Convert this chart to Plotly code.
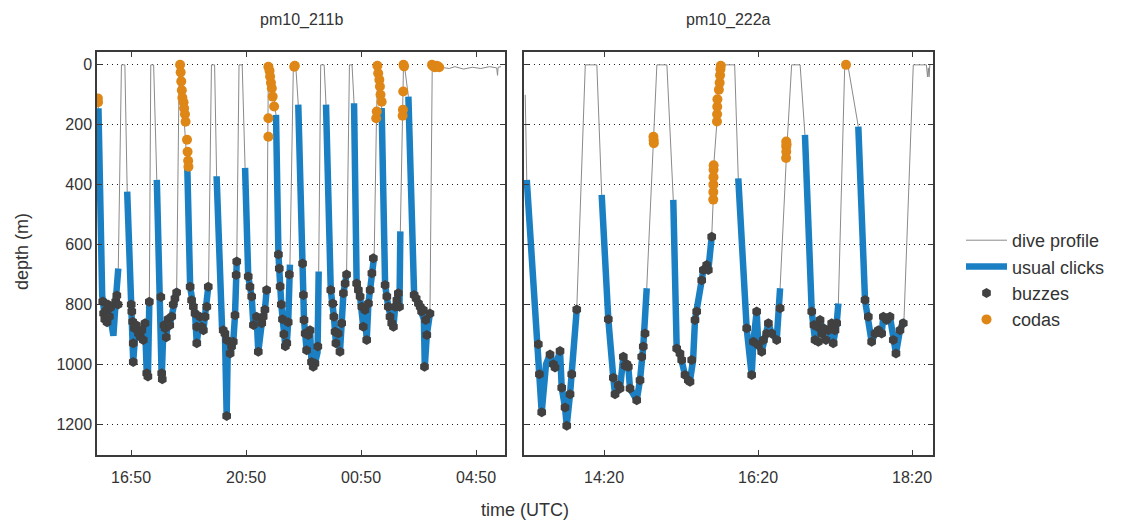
import plotly.graph_objects as go

# ---------------- data (time in decimal hours UTC, depth in m) ----------------
# panel 1 : pm10_211b (hours > 24 are after midnight)
p1_time = [15.665, 15.70, 15.75, 15.83, 15.92, 16.00, 16.08, 16.15, 16.22, 16.30, 16.39, 16.50, 16.62,
           16.70, 16.84, 16.89, 16.91, 16.98, 17.09, 17.15, 17.21, 17.26, 17.32, 17.38, 17.42, 17.47, 17.52, 17.62,
           17.73, 17.82, 17.87, 17.90, 17.96, 18.02, 18.06, 18.12, 18.18, 18.25, 18.33, 18.42, 18.51, 18.55,
           18.79, 18.89, 19.00, 19.06, 19.12, 19.23, 19.35, 19.47, 19.53, 19.63, 19.74,
           19.81, 20.00, 20.10, 20.16, 20.20, 20.28, 20.39, 20.45, 20.51, 20.59, 20.70,
           20.80, 20.91, 21.03, 21.09, 21.20, 21.26, 21.38, 21.49, 21.55, 21.60, 21.61, 21.65,
           21.876, 21.96, 22.06, 22.15, 22.20, 22.25, 22.30, 22.36, 22.48, 22.56,
           22.65, 22.80, 22.85, 22.94, 23.00, 23.06, 23.11, 23.17, 23.23, 23.32, 23.36, 23.43, 23.55,
           23.615, 23.78, 23.89, 23.96, 24.04, 24.10, 24.16, 24.22, 24.33, 24.43, 24.52,
           24.59, 24.68, 24.80, 24.91, 24.97, 25.03, 25.09, 25.21, 25.29, 25.37, 25.40, 25.42,
           25.55, 25.67, 25.78, 25.90, 25.96, 26.02, 26.13, 26.17, 26.20, 26.28, 26.31, 26.34,
           26.48, 26.68, 26.83, 26.94, 27.02, 27.05, 27.12, 27.23, 27.31,
           27.60, 27.90, 28.10, 28.40, 28.70, 29.00, 29.30, 29.55, 29.58, 29.60, 29.70]
p1_depth = [115, 145, 560, 770, 840, 850, 820, 860, 905, 790, 680, 0, 0,
            423, 780, 858, 990, 900, 897, 908, 886, 919, 863, 1030, 1045, 791, 0, 0,
            384, 745, 775, 1045, 880, 880, 910, 850, 870, 840, 800, 760, 0, 0,
            340, 741, 808, 830, 930, 841, 886, 808, 733, 0, 0,
            372, 880, 897, 1173, 930, 964, 925, 836, 657, 0, 0,
            344, 707, 774, 869, 841, 958, 863, 818, 752, 240, 0, 0,
            167, 633, 800, 900, 940, 930, 860, 667, 0, 0,
            133, 663, 852, 953, 902, 886, 992, 1008, 997, 960, 690, 0, 0,
            133, 752, 841, 930, 897, 958, 863, 763, 700, 0, 0,
            128, 730, 774, 875, 819, 919, 797, 696, 639, 178, 0, 0,
            144, 735, 808, 863, 875, 808, 763, 808, 556, 170, 0, 0,
            106, 769, 797, 824, 850, 1008, 902, 830, 0,
            8, 12, 6, 14, 8, 12, 6, 10, 35, 8, 6]
p1_click = [0, 1, 1, 1, 1, 1, 1, 1, 1, 1, 1, 0, 0,
            1, 1, 1, 1, 1, 1, 1, 1, 1, 1, 1, 1, 1, 0, 0,
            1, 1, 1, 1, 1, 1, 1, 1, 1, 1, 1, 1, 0, 0,
            1, 1, 1, 1, 1, 1, 1, 1, 1, 0, 0,
            1, 1, 1, 1, 1, 1, 1, 1, 1, 0, 0,
            1, 1, 1, 1, 1, 1, 1, 1, 1, 0, 0, 0,
            1, 1, 1, 1, 1, 1, 1, 1, 0, 0,
            1, 1, 1, 1, 1, 1, 1, 1, 1, 1, 1, 0, 0,
            1, 1, 1, 1, 1, 1, 1, 1, 1, 0, 0,
            1, 1, 1, 1, 1, 1, 1, 1, 1, 0, 0, 0,
            1, 1, 1, 1, 1, 1, 1, 1, 1, 0, 0, 0,
            1, 1, 1, 1, 1, 1, 1, 1, 0,
            0, 0, 0, 0, 0, 0, 0, 0, 0, 0, 0]

p1_buzz_time = [15.85, 15.88, 15.92, 15.96, 16.00, 16.03, 16.08, 16.12, 16.30, 16.34, 16.38,
                16.84, 16.86, 16.89, 16.91, 16.91, 16.95, 17.02, 17.09, 17.15, 17.21, 17.26, 17.32, 17.38, 17.42, 17.47,
                17.87, 17.90, 17.92, 17.98, 18.02, 18.06, 18.12, 18.18, 18.25, 18.30, 18.36, 18.42,
                18.89, 18.94, 19.00, 19.06, 19.12, 19.12, 19.23, 19.29, 19.35, 19.41, 19.47, 19.52,
                20.04, 20.10, 20.16, 20.16, 20.28, 20.33, 20.39, 20.45, 20.49, 20.51,
                20.91, 20.97, 21.03, 21.09, 21.20, 21.26, 21.38, 21.43, 21.49, 21.55,
                21.96, 21.99, 22.02, 22.06, 22.10, 22.15, 22.20, 22.25, 22.30, 22.34,
                22.80, 22.83, 22.85, 22.89, 22.94, 23.00, 23.06, 23.11, 23.17, 23.23, 23.33,
                23.78, 23.85, 23.89, 23.93, 23.96, 24.04, 24.10, 24.16, 24.22, 24.28, 24.33,
                24.68, 24.74, 24.80, 24.86, 24.91, 24.97, 25.03, 25.09, 25.15, 25.21, 25.26,
                25.67, 25.73, 25.78, 25.84, 25.90, 25.96, 26.02, 26.08, 26.13, 26.17,
                26.68, 26.75, 26.83, 26.89, 26.94, 27.00, 27.04, 27.08, 27.12, 27.23]
p1_buzz_depth = [790, 830, 850, 820, 860, 800, 840, 810, 790, 770, 800,
                 800, 824, 858, 930, 992, 880, 870, 897, 908, 886, 919, 863, 1030, 1041, 791,
                 775, 1030, 1050, 870, 880, 910, 850, 870, 840, 800, 780, 760,
                 741, 786, 808, 830, 875, 930, 841, 875, 886, 841, 808, 741,
                 886, 897, 919, 1173, 964, 941, 925, 836, 702, 657,
                 707, 741, 774, 869, 841, 958, 863, 841, 818, 752,
                 633, 680, 740, 800, 850, 900, 940, 930, 860, 700,
                 663, 769, 852, 897, 953, 902, 886, 992, 1008, 997, 941,
                 752, 797, 841, 891, 930, 897, 958, 863, 763, 730, 700,
                 730, 752, 774, 808, 875, 819, 919, 797, 752, 696, 646,
                 735, 774, 808, 841, 863, 875, 808, 785, 763, 808,
                 769, 780, 797, 808, 824, 819, 1008, 852, 902, 830]

p1_coda_time = [15.68, 15.685,
                18.54, 18.56, 18.58, 18.60, 18.62, 18.66, 18.68, 18.71, 18.73, 18.78, 18.80, 18.82, 18.83,
                21.61, 21.61, 21.61, 21.65, 21.67, 21.70, 21.73, 21.76, 21.81,
                22.51, 22.53,
                25.36, 25.38, 25.40, 25.43, 25.47, 25.49, 25.51, 25.55,
                26.28, 26.29, 26.30, 26.31, 26.33,
                27.30, 27.35, 27.40, 27.45, 27.50, 27.55]
p1_coda_depth = [112, 125,
                 0, 25, 55, 85, 110, 125, 145, 165, 190, 250, 290, 320, 340,
                 240, 178, 6, 20, 39, 60, 78, 106, 139,
                 6, 3,
                 178, 156, 3, 28, 50, 72, 100, 123,
                 170, 150, 89, 0, 5,
                 0, 5, 8, 3, 5, 8]

# panel 2 : pm10_222a
p2_time = [13.31, 13.33, 13.40, 13.48, 13.494, 13.524, 13.58, 13.632, 13.675, 13.697, 13.762, 13.784, 13.827,
           13.849, 13.892, 13.914, 13.979, 14.09, 14.24,
           14.303, 14.389, 14.454, 14.476, 14.541, 14.584, 14.606, 14.649, 14.671, 14.758, 14.801, 14.843,
           14.888, 14.975, 15.02, 15.15,
           15.233, 15.277, 15.32, 15.385, 15.45, 15.49, 15.515, 15.537, 15.602, 15.623, 15.667, 15.688, 15.732,
           15.75, 15.76, 15.80, 15.81, 15.84, 15.85, 16.03,
           16.077, 16.186, 16.251, 16.273, 16.316, 16.338, 16.381, 16.43, 16.468, 16.511, 16.576, 16.62,
           16.705, 16.77, 16.88,
           16.943, 17.031, 17.074, 17.104, 17.139, 17.183, 17.246, 17.31, 17.355, 17.377, 17.46, 17.50,
           17.636, 17.723, 17.809, 17.853, 17.939, 17.961, 18.047, 18.125, 18.177, 18.229, 18.35, 18.52,
           18.535, 18.545, 18.555, 18.565]
p2_depth = [100, 384, 650, 933, 1033, 1160, 1000, 967, 1000, 1011, 956, 1078, 1144,
            1205, 1100, 1033, 817, 0, 0,
            434, 850, 1045, 1100, 1081, 975, 1005, 1008, 1081, 1120, 1053, 941,
            746, 250, 0, 0,
            451, 947, 964, 1036, 1055, 986, 852, 824, 719, 685, 668, 685, 574,
            460, 330, 190, 110, 40, 0, 0,
            379, 880, 1036, 925, 824, 936, 958, 900, 863, 897, 919, 746,
            290, 0, 0,
            234, 824, 919, 875, 852, 897, 886, 930, 863, 797, 0, 0,
            206, 785, 925, 897, 897, 841, 841, 964, 886, 852, 0, 0,
            40, 10, 40, 0]
p2_click = [0, 1, 1, 1, 1, 1, 1, 1, 1, 1, 1, 1, 1,
            1, 1, 1, 1, 0, 0,
            1, 1, 1, 1, 1, 1, 1, 1, 1, 1, 1, 1,
            1, 0, 0, 0,
            1, 1, 1, 1, 1, 1, 1, 1, 1, 1, 1, 1, 1,
            0, 0, 0, 0, 0, 0, 0,
            1, 1, 1, 1, 1, 1, 1, 1, 1, 1, 1, 1,
            0, 0, 0,
            1, 1, 1, 1, 1, 1, 1, 1, 1, 1, 0, 0,
            1, 1, 1, 1, 1, 1, 1, 1, 1, 1, 0, 0,
            0, 0, 0, 0]

p2_buzz_time = [13.48, 13.494, 13.524, 13.632, 13.675, 13.697, 13.762, 13.784, 13.827, 13.849, 13.892, 13.914, 13.979,
                14.389, 14.454, 14.476, 14.52, 14.541, 14.584, 14.606, 14.63, 14.649, 14.671, 14.758, 14.801,
                14.823, 14.843, 14.866,
                15.277, 15.32, 15.342, 15.385, 15.428, 15.45, 15.472, 15.515, 15.537, 15.602, 15.623, 15.667,
                15.688, 15.732,
                16.186, 16.251, 16.273, 16.316, 16.338, 16.381, 16.403, 16.446, 16.468, 16.511, 16.576, 16.62,
                17.031, 17.06, 17.074, 17.104, 17.117, 17.139, 17.161, 17.183, 17.216, 17.246, 17.29, 17.31,
                17.333, 17.355,
                17.723, 17.766, 17.809, 17.853, 17.896, 17.939, 17.961, 18.004, 18.047, 18.09, 18.125, 18.177, 18.22]
p2_buzz_depth = [933, 1033, 1160, 967, 1000, 1011, 956, 1078, 1144, 1205, 1100, 1033, 817,
                 850, 1045, 1100, 1070, 1081, 975, 1005, 1000, 1008, 1081, 1120, 1053,
                 975, 941, 897,
                 947, 964, 986, 1036, 1053, 1058, 986, 852, 824, 719, 685, 668,
                 685, 574,
                 880, 1036, 925, 824, 936, 958, 919, 897, 863, 897, 919, 813,
                 824, 869, 919, 875, 925, 852, 897, 880, 919, 886, 863, 930,
                 886, 863,
                 785, 841, 925, 897, 886, 897, 841, 852, 841, 919, 964, 886, 863]

p2_coda_time = [14.975, 14.978, 14.98,
                15.752, 15.753, 15.754, 15.755, 15.756, 15.757, 15.80, 15.802, 15.804, 15.806,
                15.825, 15.835, 15.84, 15.845, 15.85,
                16.70, 16.70, 16.70, 16.698, 16.704,
                17.476]
p2_coda_depth = [240, 252, 262,
                 450, 425, 400, 375, 350, 335, 189, 165, 140, 115,
                 83, 60, 35, 15, 3,
                 256, 273, 290, 311, 265,
                 0]

# axes
p1_range = [15.65, 29.84]
p2_range = [13.294, 18.606]
p1_tick_hours = [16 + 50 / 60, 20 + 50 / 60, 24 + 50 / 60, 28 + 50 / 60]
p1_tick_labels = ["16:50", "20:50", "00:50", "04:50"]
p2_tick_hours = [14 + 20 / 60, 16 + 20 / 60, 18 + 20 / 60]
p2_tick_labels = ["14:20", "16:20", "18:20"]
depth_ticks = [0, 200, 400, 600, 800, 1000, 1200]
depth_range = [1303, -43]
panel_titles = ["pm10_211b", "pm10_222a"]

# ---------------- styling ----------------
C_PROFILE = "#8a8a8a"
C_CLICK = "#1b80c3"
C_BUZZ = "#414141"
C_CODA = "#de8616"
FONT = "Liberation Sans, Arial, sans-serif"
TXT = "#333333"


def click_path(t, d, flag):
    xs, ys = [], []
    for i in range(len(t) - 1):
        if flag[i] and flag[i + 1]:
            if not xs or xs[-1] is None:
                xs.append(t[i]); ys.append(d[i])
            xs.append(t[i + 1]); ys.append(d[i + 1])
        elif xs and xs[-1] is not None:
            xs.append(None); ys.append(None)
    return xs, ys


fig = go.Figure()
panels = [
    (p1_time, p1_depth, p1_click, p1_buzz_time, p1_buzz_depth, p1_coda_time, p1_coda_depth, "x", "y"),
    (p2_time, p2_depth, p2_click, p2_buzz_time, p2_buzz_depth, p2_coda_time, p2_coda_depth, "x2", "y2"),
]
for k, (t, d, f, bt, bd, ct, cd, xa, ya) in enumerate(panels):
    show = k == 0
    fig.add_trace(go.Scatter(x=t, y=d, mode="lines", name="dive profile", legendgroup="p",
                             showlegend=show, line=dict(color=C_PROFILE, width=1),
                             xaxis=xa, yaxis=ya))
    cx, cy = click_path(t, d, f)
    fig.add_trace(go.Scatter(x=cx, y=cy, mode="lines", name="usual clicks", legendgroup="c",
                             showlegend=show, line=dict(color=C_CLICK, width=6.5),
                             xaxis=xa, yaxis=ya))
    fig.add_trace(go.Scatter(x=bt, y=bd, mode="markers", name="buzzes", legendgroup="b",
                             showlegend=show,
                             marker=dict(symbol="hexagon", size=10, color=C_BUZZ),
                             xaxis=xa, yaxis=ya))
    fig.add_trace(go.Scatter(x=ct, y=cd, mode="markers", name="codas", legendgroup="o",
                             showlegend=show,
                             marker=dict(symbol="circle", size=10, color=C_CODA),
                             xaxis=xa, yaxis=ya))

W, H = 1122, 522
ytop, ybot = 52, 455
ydom = [1 - ybot / H, 1 - ytop / H]

common_x = dict(showgrid=False, zeroline=False, showline=True, linecolor="#3a3a3a", linewidth=1.5,
                mirror="ticks", ticks="inside", ticklen=5, tickcolor="#3a3a3a", ticklabelstandoff=7,
                tickfont=dict(family=FONT, size=16, color=TXT))
common_y = dict(showgrid=True, gridcolor="#222222", griddash="1px,4px", gridwidth=1,
                zeroline=False, showline=True, linecolor="#3a3a3a", linewidth=1.5,
                mirror="ticks", ticks="inside", ticklen=5, tickcolor="#3a3a3a",
                tickvals=depth_ticks, range=depth_range,
                tickfont=dict(family=FONT, size=16, color=TXT))

fig.update_layout(
    width=W, height=H,
    margin=dict(l=0, r=0, t=0, b=0),
    paper_bgcolor="white", plot_bgcolor="white",
    font=dict(family=FONT, color=TXT),
    xaxis=dict(domain=[97 / W, 505 / W], range=p1_range, tickvals=p1_tick_hours,
               ticktext=p1_tick_labels, anchor="y", **common_x),
    xaxis2=dict(domain=[524 / W, 933 / W], range=p2_range, tickvals=p2_tick_hours,
                ticktext=p2_tick_labels, anchor="y2", **common_x),
    yaxis=dict(domain=ydom, anchor="x", ticklabelstandoff=0, **common_y),
    yaxis2=dict(domain=ydom, anchor="x2", showticklabels=False, **common_y),
    legend=dict(x=961 / W, y=1 - 222 / H, xanchor="left", yanchor="top",
                font=dict(family=FONT, size=18, color=TXT), bgcolor="rgba(0,0,0,0)",
                tracegroupgap=0, itemwidth=41),
    showlegend=True,
)

anns = [
    dict(text=panel_titles[0], x=301 / W, y=1 - 20 / H, size=16),
    dict(text=panel_titles[1], x=728.5 / W, y=1 - 20 / H, size=16),
    dict(text="time (UTC)", x=525 / W, y=1 - 510 / H, size=18),
    dict(text="depth (m)", x=22 / W, y=1 - 252 / H, textangle=-90, size=18),
]
for a in anns:
    size = a.pop("size")
    fig.add_annotation(xref="paper", yref="paper", showarrow=False, xanchor="center", yanchor="middle",
                       font=dict(family=FONT, size=size, color=TXT), **a)

fig.write_html("out.html")
